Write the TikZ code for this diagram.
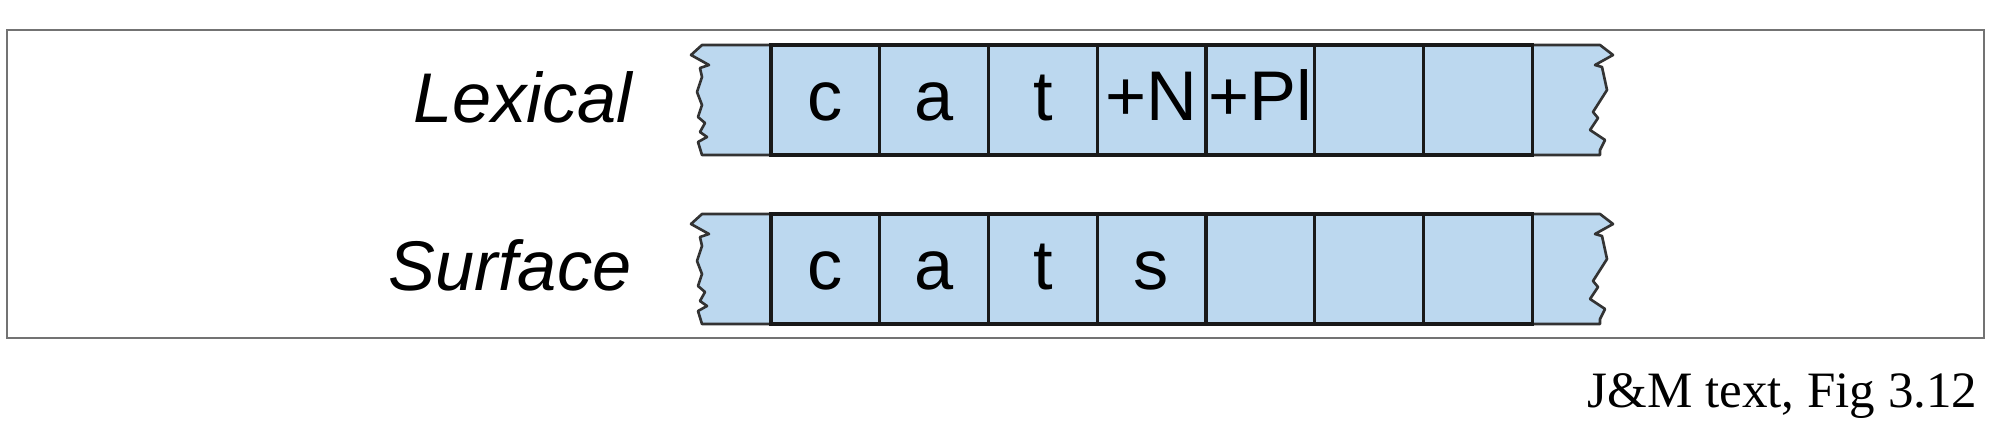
\documentclass[tikz,border=0pt]{standalone}
\usepackage{fontspec}
\setmainfont{Liberation Serif}
\newfontfamily\sansfont{Liberation Sans}
\definecolor{tapeblue}{RGB}{188,216,239}
\definecolor{framegray}{RGB}{115,115,115}
\definecolor{celledge}{RGB}{25,25,25}
\begin{document}
\begin{tikzpicture}[x=0.01cm,y=-0.01cm,
  cellbox/.style={draw=celledge, line width=0.9pt, fill=tapeblue,
    minimum width=1.087cm, minimum height=1.1cm, inner sep=0pt,
    text height=0.45cm, text depth=0.05cm,
    font=\sansfont\fontsize{20}{24}\selectfont},
  tapeend/.style={fill=tapeblue, draw=black!80, line width=0.75pt, line join=round},
  tapelabel/.style={anchor=base east, inner sep=0pt,
    font=\sansfont\itshape\fontsize{20}{24}\selectfont},
  caption/.style={anchor=base east, inner sep=0pt, font=\fontsize{14.5}{17}\selectfont},
  frame/.style={draw=framegray, line width=0.7pt}]
\useasboundingbox[fill=white] (0,0) rectangle (1994,442);
\draw[frame] (7,30) rectangle (1984,338);

% tape ends
\foreach \dy in {0,169}{
\begin{scope}[shift={(0,\dy)}]
\path[tapeend] (771,45) -- (702,45) -- (691,55) -- (709,65) -- (700,68) -- (702,77)
  -- (697,92) -- (702,105) -- (698,117) -- (705,123) -- (700,132) -- (707,137)
  -- (698,142) -- (702,155) -- (771,155) -- cycle;
\path[tapeend] (1532,45) -- (1600,45) -- (1613,55) -- (1595,65) -- (1602,67)
  -- (1607,90) -- (1593,112) -- (1598,118) -- (1590,130) -- (1605,140)
  -- (1600,150) -- (1600,155) -- (1532,155) -- cycle;
\end{scope}}

% lexical tape
\node[cellbox] (L1) at (825.4,100) {c};
\node[cellbox] (L2) at (934.1,100) {a};
\node[cellbox] (L3) at (1042.8,100) {t};
\node[cellbox] (L4) at (1151.5,100) {+N};
\node[cellbox] (L5) at (1260.3,100) {+Pl};
\node[cellbox] (L6) at (1369.0,100) {};
\node[cellbox] (L7) at (1477.7,100) {};

% surface tape
\node[cellbox] (S1) at (825.4,269) {c};
\node[cellbox] (S2) at (934.1,269) {a};
\node[cellbox] (S3) at (1042.8,269) {t};
\node[cellbox] (S4) at (1151.5,269) {s};
\node[cellbox] (S5) at (1260.3,269) {};
\node[cellbox] (S6) at (1369.0,269) {};
\node[cellbox] (S7) at (1477.7,269) {};

% labels
\node[tapelabel] (lex) at (633,122) {Lexical};
\node[tapelabel] (surf) at (632,290) {Surface};
\node[caption] (cap) at (1978,407) {J\&M text, Fig 3.12};
\end{tikzpicture}
\end{document}
